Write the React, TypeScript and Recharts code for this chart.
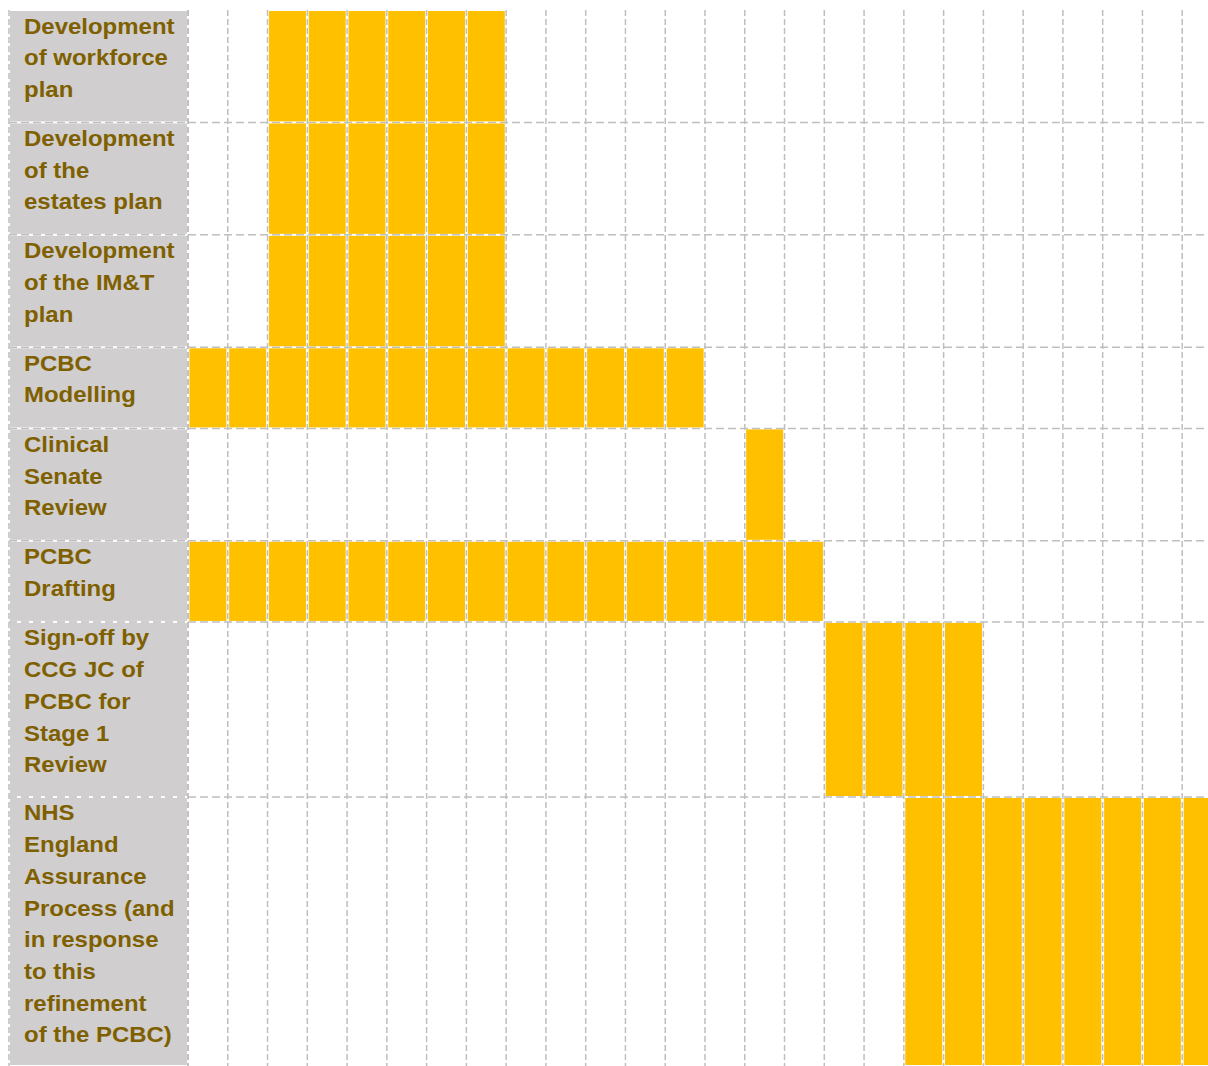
import React from 'react';
import { BarChart, Bar, XAxis, YAxis, CartesianGrid } from 'recharts';

// Time periods (columns of the plan)
const periods = [1, 2, 3, 4, 5, 6, 7, 8, 9, 10, 11, 12, 13, 14, 15, 16, 17, 18, 19, 20, 21, 22, 23, 24, 25, 26];

// Task labels, as wrapped in the table
const taskLabels: string[][] = [
  ['Development', 'of workforce', 'plan'],
  ['Development', 'of the', 'estates plan'],
  ['Development', 'of the IM&T', 'plan'],
  ['PCBC', 'Modelling'],
  ['Clinical', 'Senate', 'Review'],
  ['PCBC', 'Drafting'],
  ['Sign-off by', 'CCG JC of', 'PCBC for', 'Stage 1', 'Review'],
  ['NHS', 'England', 'Assurance', 'Process (and', 'in response', 'to this', 'refinement', 'of the PCBC)'],
];

// First and last active period of each task
const taskStart = [3, 3, 3, 1, 15, 1, 17, 19];
const taskEnd = [8, 8, 8, 13, 15, 16, 20, 26];

const YELLOW = '#FFC000';
const GREY = '#D0CECE';
const TEXT = '#7F6000';
const GRID = '#BFBFBF';
const ROW_PAD = 0.59;
const LINE_STEP = 31.7;

const rowSpans = taskLabels.map((l) => l.length + ROW_PAD);
const total = rowSpans.reduce((a, b) => a + b, 0);
const boundaries = rowSpans.slice(0, -1).map((_, i) => rowSpans.slice(0, i + 1).reduce((a, b) => a + b, 0));
const rowKeys = taskLabels.map((_, i) => `row${i}`);

const gridData = periods.map((p) => {
  const o: any = { period: p };
  rowKeys.forEach((k, i) => (o[k] = rowSpans[i]));
  return o;
});
const labelData = [
  (() => {
    const o: any = { period: 'task' };
    rowKeys.forEach((k, i) => (o[k] = rowSpans[i]));
    return o;
  })(),
];

const norm = (y: number, h: number) => (h < 0 ? { top: y + h, h: -h } : { top: y, h });

const cellShape = (i: number) => (props: any) => {
  const { x, y, width, height, payload } = props;
  const active = payload.period >= taskStart[i] && payload.period <= taskEnd[i];
  if (!active) return <g />;
  const { top, h } = norm(y, height);
  return <rect x={x} y={top + 1} width={width} height={Math.max(0, h - 2)} fill={YELLOW} />;
};

const labelShape = (i: number) => (props: any) => {
  const { x, y, width, height } = props;
  const { top, h } = norm(y, height);
  return (
    <g>
      <rect x={x} y={top + 1} width={width} height={Math.max(0, h - 2)} fill={GREY} />
      <text
        transform={`translate(${x + 14} ${top + 23.5}) scale(1.09 1)`}
        x={0}
        y={0}
        fill={TEXT}
        style={{ fontFamily: '"Liberation Sans", Arial, sans-serif', fontWeight: 700, fontSize: 22 }}
      >
        {taskLabels[i].map((line, j) => (
          <tspan key={j} x={0} dy={j === 0 ? 0 : LINE_STEP}>
            {line}
          </tspan>
        ))}
      </text>
    </g>
  );
};

// vertical grid lines at the band boundaries of the category axis
const bandBoundaries = (cats: any[]) => (props: any) => {
  const s = props?.xAxis?.scale;
  if (s && typeof s === 'function' && typeof s.bandwidth === 'function') {
    const bw = s.bandwidth();
    const pts = cats.map((c) => s(c));
    pts.push(s(cats[cats.length - 1]) + bw);
    return pts;
  }
  const off = props.offset;
  const n = cats.length;
  return Array.from({ length: n + 1 }, (_, k) => off.left + (k * off.width) / n);
};

// horizontal grid lines only at the row boundaries
const rowBoundaries = (props: any) => {
  const s = props?.yAxis?.scale;
  if (s && typeof s === 'function') return boundaries.map((b) => s(b));
  const off = props.offset;
  return boundaries.map((b) => off.top + (b / total) * off.height);
};

const CHART_H = 1058;

export default function App() {
  return (
    <div style={{ position: 'absolute', left: 8, top: 8, width: 1200, height: CHART_H, overflow: 'hidden' }}>
      <div style={{ position: 'absolute', left: 0, top: 0 }}>
        <BarChart width={182} height={CHART_H} data={labelData} margin={{ top: 2, right: 2, bottom: 0, left: 1 }} barCategoryGap={1}>
          <XAxis dataKey="period" hide />
          <YAxis type="number" domain={[0, total]} ticks={boundaries} reversed hide allowDataOverflow />
          <CartesianGrid
            vertical={true}
            horizontal={false}
            verticalCoordinatesGenerator={bandBoundaries(['task'])}
            stroke={GRID}
            strokeWidth={1.5}
            strokeDasharray="6 3"
          />
          <CartesianGrid
            vertical={false}
            horizontal={true}
            horizontalCoordinatesGenerator={rowBoundaries}
            stroke={GRID}
            strokeWidth={1.5}
            strokeDasharray="8 4"
          />
          {rowKeys.map((k, i) => (
            <Bar key={k} dataKey={k} stackId="a" isAnimationActive={false} shape={labelShape(i)} />
          ))}
        </BarChart>
      </div>
      <div style={{ position: 'absolute', left: 178, top: 0 }}>
        <BarChart width={1036} height={CHART_H} data={gridData} margin={{ top: 2, right: 0, bottom: 0, left: 2 }} barCategoryGap={1.4}>
          <XAxis dataKey="period" hide />
          <YAxis type="number" domain={[0, total]} ticks={boundaries} reversed hide allowDataOverflow />
          <CartesianGrid
            vertical={true}
            horizontal={false}
            verticalCoordinatesGenerator={bandBoundaries(periods)}
            stroke={GRID}
            strokeWidth={1.5}
            strokeDasharray="6 3"
          />
          <CartesianGrid
            vertical={false}
            horizontal={true}
            horizontalCoordinatesGenerator={rowBoundaries}
            stroke={GRID}
            strokeWidth={1.5}
            strokeDasharray="8 4"
          />
          {rowKeys.map((k, i) => (
            <Bar key={k} dataKey={k} stackId="a" isAnimationActive={false} shape={cellShape(i)} />
          ))}
        </BarChart>
      </div>
    </div>
  );
}
